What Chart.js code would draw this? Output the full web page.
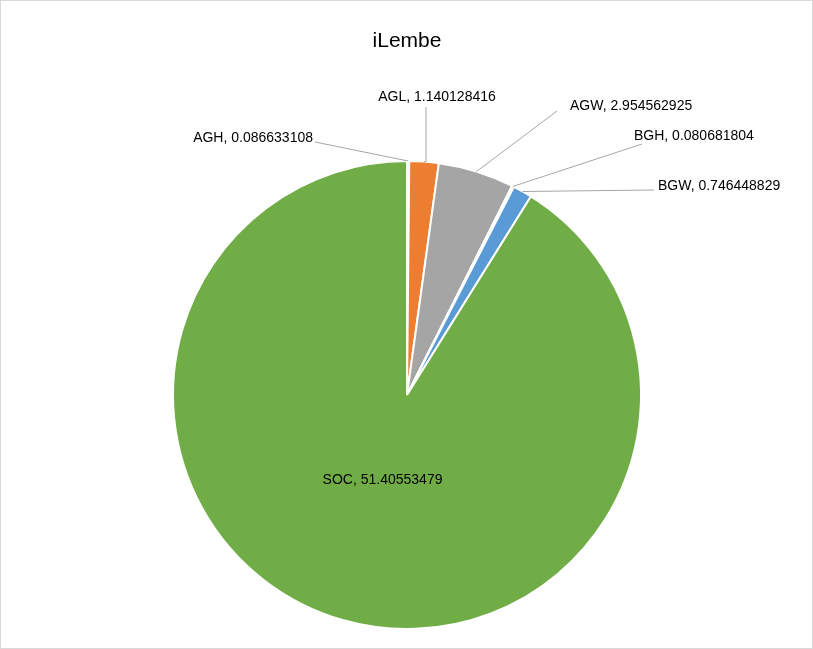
<!DOCTYPE html>
<html>
<head>
<meta charset="utf-8">
<script src="https://cdn.jsdelivr.net/npm/chart.js@4"></script>
<style>
  body { margin: 0; background: #fff; }
  #wrap { width: 811px; height: 647px; border: 1px solid #d9d9d9; }
</style>
</head>
<body>
<div id="wrap"><canvas id="pieChart" width="811" height="647"></canvas></div>
<script>
const categories = ["AGH", "AGL", "AGW", "BGH", "BGW", "SOC"];
const values = [0.086633108, 1.140128416, 2.954562925, 0.080681804, 0.746448829, 51.40553479];
const labelText = ["0.086633108", "1.140128416", "2.954562925", "0.080681804", "0.746448829", "51.40553479"];
const colors = ["#4472C4", "#ED7D31", "#A5A5A5", "#FFC000", "#5B9BD5", "#70AD47"];

// where each outside label sits (text anchor x, y, alignment), relative to the canvas
const labelSpots = [
  { x: 312, y: 137, align: "right", lineX: 314, lineY: 141 },
  { x: 436, y: 96, align: "center", lineX: 425, lineY: 106 },
  { x: 569, y: 105, align: "left", lineX: 556, lineY: 110 },
  { x: 633, y: 135, align: "left", lineX: 641, lineY: 143 },
  { x: 657, y: 185, align: "left", lineX: 653, lineY: 189 },
  null,
];

const labelPlugin = {
  id: "pieLabels",
  afterDraw(chart) {
    const ctx = chart.ctx;
    ctx.save();
    ctx.fillStyle = "#000";
    ctx.font = "21px 'Liberation Sans', Arial";
    ctx.textAlign = "center";
    ctx.textBaseline = "middle";
    ctx.fillText("iLembe", 406, 40);

    ctx.font = "14px 'Liberation Sans', Arial";
    chart.getDatasetMeta(0).data.forEach((arc, i) => {
      const text = categories[i] + ", " + labelText[i];
      const spot = labelSpots[i];
      const mid = (arc.startAngle + arc.endAngle) / 2;
      if (!spot) {
        const r = arc.outerRadius * 0.38;
        ctx.textAlign = "center";
        ctx.fillText(text, arc.x + Math.cos(mid) * r, arc.y + Math.sin(mid) * r);
        return;
      }
      const ex = arc.x + Math.cos(mid) * arc.outerRadius;
      const ey = arc.y + Math.sin(mid) * arc.outerRadius;
      ctx.strokeStyle = "#a6a6a6";
      ctx.lineWidth = 1;
      ctx.beginPath();
      ctx.moveTo(spot.lineX, spot.lineY);
      if (spot.align === "center") ctx.lineTo(spot.lineX, ey);
      ctx.lineTo(ex, ey);
      ctx.stroke();
      ctx.textAlign = spot.align;
      ctx.fillText(text, spot.x, spot.y);
    });
    ctx.restore();
  },
};

const pieCtx = document.getElementById("pieChart").getContext("2d");
new Chart(pieCtx, {
  type: "pie",
  data: {
    labels: categories,
    datasets: [
      {
        data: values,
        backgroundColor: colors,
        borderColor: "#fff",
        borderWidth: 2,
      },
    ],
  },
  options: {
    responsive: false,
    animation: false,
    layout: { padding: { top: 159, bottom: 18, left: 171, right: 170 } },
    plugins: {
      legend: { display: false },
      tooltip: { enabled: false },
    },
  },
  plugins: [labelPlugin],
});
</script>
</body>
</html>
